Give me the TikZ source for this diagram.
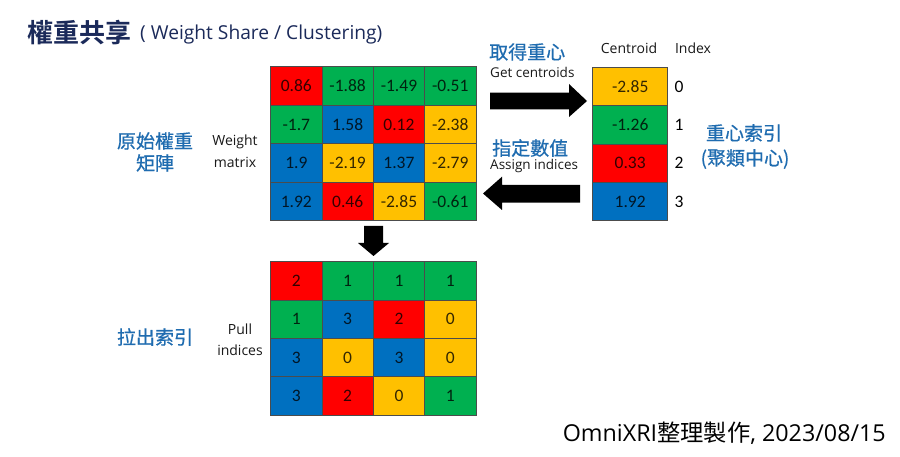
\documentclass[tikz,border=0pt]{standalone}
\usepackage{fontspec}
\setmainfont{Open Sans}
\newfontfamily\cjk{Noto Sans CJK TC}
\newfontfamily\cjkm[FakeBold=0.6]{Noto Sans CJK TC}
\newfontfamily\cjkb{Noto Sans CJK TC Bold}
\newfontfamily\calf{Carlito}
\usetikzlibrary{calc}
\definecolor{cR}{HTML}{FF0000}
\definecolor{cG}{HTML}{00B050}
\definecolor{cB}{HTML}{0070C0}
\definecolor{cY}{HTML}{FFC000}
\definecolor{lblue}{HTML}{1F6CB0}
\definecolor{navy}{HTML}{1B2A5A}
\newcommand{\fs}[1]{\fontsize{#1}{#1}\selectfont}
\begin{document}
\begin{tikzpicture}[x=1pt,y=-1pt,
  cell/.style={draw=black!70, line width=0.6pt, minimum width=51.3pt, minimum height=38.5pt, inner sep=0pt, font=\calf\fs{17.5}, text=black, text opacity=0.8},
  ccell/.style={cell, minimum width=75pt, minimum height=38.35pt},
  bcell/.style={cell, minimum height=38.3pt},
  cjklbl/.style={font=\cjkm\fs{19}, text=lblue, inner sep=0pt, align=center},
  enlbl/.style={font=\fs{14}, text=black!90, inner sep=0pt, align=center},
  blockarrow/.style={fill=black, draw=none}]
\useasboundingbox (0,0) rectangle (900,457);
\fill[white] (0,0) rectangle (900,457);

% title
\node[anchor=west, inner sep=0pt, font=\cjkb\fs{26}, text=navy] (title) at (27,33) {權重共享};
\node[anchor=west, inner sep=0pt, font=\fs{19.2}, text=navy] (subtitle) at (140,35) {( Weight Share / Clustering)};

% top matrix (weights)
\foreach \c/\r/\col/\v in {1/1/cR/0.86, 2/1/cG/-1.88, 3/1/cG/-1.49, 4/1/cG/-0.51,
                          1/2/cG/-1.7, 2/2/cB/1.58, 3/2/cR/0.12, 4/2/cY/-2.38,
                          1/3/cB/1.9, 2/3/cY/-2.19, 3/3/cB/1.37, 4/3/cY/-2.79,
                          1/4/cB/1.92, 2/4/cR/0.46, 3/4/cY/-2.85, 4/4/cG/-0.61}
  \node[cell, fill=\col] (w\c\r) at ({270.7+51.3*(\c-0.5)},{66.7+38.5*(\r-0.5)}) {\v};

% bottom matrix (indices)
\foreach \c/\r/\col/\v in {1/1/cR/2, 2/1/cG/1, 3/1/cG/1, 4/1/cG/1,
                          1/2/cG/1, 2/2/cB/3, 3/2/cR/2, 4/2/cY/0,
                          1/3/cB/3, 2/3/cY/0, 3/3/cB/3, 4/3/cY/0,
                          1/4/cB/3, 2/4/cR/2, 3/4/cY/0, 4/4/cG/1}
  \node[bcell, fill=\col] (p\c\r) at ({270.7+51.3*(\c-0.5)},{261.7+38.3*(\r-0.5)}) {\v};

% centroid column
\foreach \r/\col/\v in {1/cY/-2.85, 2/cG/-1.26, 3/cR/0.33, 4/cB/1.92}
  \node[ccell, fill=\col] (c\r) at (630.2,{67.3+38.35*(\r-0.5)}) {\v};
\foreach \r/\i in {1/0,2/1,3/2,4/3}
  \node[font=\calf\fs{17.5}, inner sep=0pt] (i\r) at (679,{67.3+38.35*(\r-0.5)}) {\i};

\node[enlbl] (hcent) at (629,48) {Centroid};
\node[enlbl] (hidx) at (693,48) {Index};

% labels left
\node[cjklbl] (l1) at (155,141) {原始權重};
\node[cjklbl] (l2) at (155,163) {矩陣};
\node[enlbl] (l3) at (235,142) {Weight};
\node[enlbl] (l4) at (235,162) {matrix};
\node[cjklbl] (l5) at (155,337) {拉出索引};
\node[enlbl] (l6) at (240,329) {Pull};
\node[enlbl] (l7) at (240,350) {indices};

% arrow labels
\node[cjklbl, anchor=west] (g1) at (489,52) {取得重心};
\node[enlbl, anchor=west, font=\fs{13.5}] (g2) at (490,72) {Get centroids};
\node[cjklbl, anchor=west] (a1) at (492,148) {指定數值};
\node[enlbl, anchor=west, font=\fs{13.5}] (a2) at (490,166) {Assign indices};

% right labels
\node[cjklbl] (r1) at (744,133) {重心索引};
\node[cjklbl] (r2) at (745,159) {(聚類中心)};

% block arrows
\fill[blockarrow] (490,92.7) -- (569,92.7) -- (569,84) -- (587,101) -- (569,117) -- (569,109.3) -- (490,109.3) -- cycle;
\fill[blockarrow] (580,185) -- (502,185) -- (502,176.7) -- (483,193.5) -- (502,210) -- (502,202.7) -- (580,202.7) -- cycle;
\fill[blockarrow] (364,226) -- (383,226) -- (383,243) -- (389,243) -- (373.5,256) -- (358,243) -- (364,243) -- cycle;

% footer
\node[anchor=east, inner sep=0pt, font=\fs{23.3}] (foot) at (886,433) {OmniXRI{\cjk 整理製作}, 2023/08/15};
\end{tikzpicture}
\end{document}
